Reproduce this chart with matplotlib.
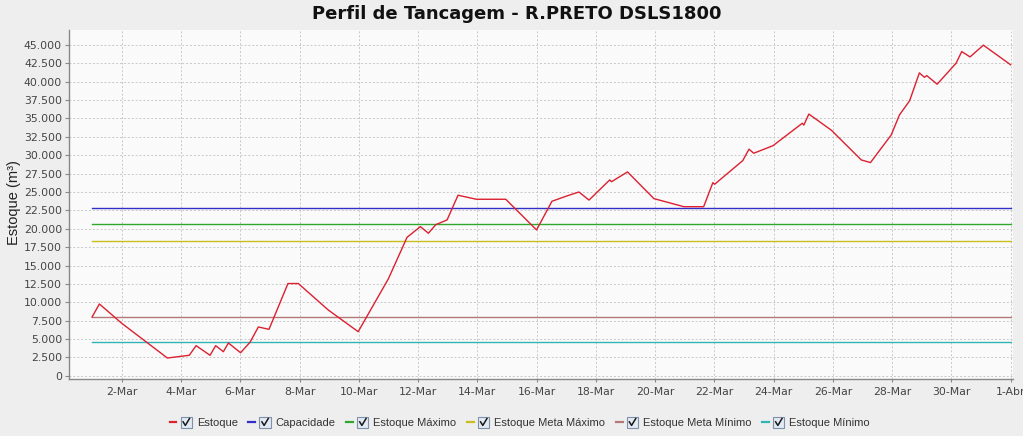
import matplotlib
matplotlib.use("Agg")
import matplotlib.pyplot as plt
from matplotlib.lines import Line2D
from matplotlib.patches import Rectangle
from matplotlib.legend_handler import HandlerBase
from matplotlib.ticker import FuncFormatter, MultipleLocator

# ---- data (x = days since 1-Mar 00:00) ----
estoque_days = [0, 0.245, 1.0, 2.54, 3.28, 3.51, 3.98, 4.17, 4.43, 4.6, 5.01, 5.33, 5.61,
                5.97, 6.61, 6.96, 7.97, 8.98, 10.0, 10.63, 11.08, 11.35, 11.6, 11.98,
                12.35, 12.97, 13.96, 15.0, 15.52, 16.05, 16.43, 16.77, 17.47, 17.53,
                18.07, 18.96, 19.97, 20.64, 20.95, 21.01, 21.96, 22.17, 22.33, 22.98,
                23.97, 24.02, 24.19, 24.95, 25.96, 26.27, 26.97, 27.25, 27.59, 27.92,
                28.09, 28.17, 28.52, 29.16, 29.35, 29.63, 30.08, 31.0]
estoque_vals = [8000, 9770, 7140, 2420, 2790, 4100, 2790, 4100, 3280, 4460, 3140, 4560, 6640,
                6320, 12550, 12550, 8950, 6000, 13200, 18840, 20290, 19390, 20560, 21200,
                24560, 24010, 24010, 19840, 23740, 24500, 25000, 23900, 26640, 26400,
                27730, 24100, 23000, 23000, 26270, 26050, 29270, 30820, 30270, 31300,
                34350, 34100, 35600, 33400, 29360, 29000, 32760, 35500, 37400, 41200,
                40600, 40830, 39660, 42520, 44100, 43370, 44970, 42300]

line_range = [0, 31]
capacidade = 22800
estoque_maximo = 20600
estoque_meta_maximo = 18350
estoque_meta_minimo = 8000
estoque_minimo = 4600

series_names = ["Estoque", "Capacidade", "Estoque Máximo", "Estoque Meta Máximo",
                "Estoque Meta Mínimo", "Estoque Mínimo"]
series_colors = ["#DC2030", "#3030C8", "#30A830", "#C8BE1E", "#B47878", "#30B4B4"]

tick_days = [1, 3, 5, 7, 9, 11, 13, 15, 17, 19, 21, 23, 25, 27, 29, 31]
tick_labels = ["2-Mar", "4-Mar", "6-Mar", "8-Mar", "10-Mar", "12-Mar", "14-Mar", "16-Mar",
               "18-Mar", "20-Mar", "22-Mar", "24-Mar", "26-Mar", "28-Mar", "30-Mar", "1-Abr"]

title = "Perfil de Tancagem - R.PRETO DSLS1800"
ylabel = "Estoque (m³)"

W, H = 1023, 436
fig = plt.figure(figsize=(W / 100, H / 100), dpi=100, facecolor="#EEEEEE")
ax = fig.add_axes([69 / W, 1 - 379 / H, (1013 - 69) / W, (379 - 29.5) / H])
ax.set_facecolor("#FAFAFA")

ax.plot(estoque_days, estoque_vals, color=series_colors[0], lw=1.0, zorder=5)
levels = [capacidade, estoque_maximo, estoque_meta_maximo, estoque_meta_minimo, estoque_minimo]
for lvl, c in zip(levels, series_colors[1:]):
    ax.plot(line_range, [lvl, lvl], color=c, lw=1.0, zorder=4)

ax.set_xlim(-0.78, 31.08)
ax.set_ylim(-435, 47100)
ax.yaxis.set_major_locator(MultipleLocator(2500))
ax.yaxis.set_major_formatter(FuncFormatter(lambda v, p: f"{int(round(v)):,}".replace(",", ".")))
ax.set_xticks(tick_days)
ax.set_xticklabels(tick_labels)

ax.grid(True, color="#C8C8C8", linestyle=(0, (2, 2)), lw=0.7)
ax.set_axisbelow(True)
for s in ["top", "right"]:
    ax.spines[s].set_visible(False)
for s in ["left", "bottom"]:
    ax.spines[s].set_color("#888888")
    ax.spines[s].set_linewidth(1.0)
ax.tick_params(axis="y", direction="out", length=3, color="#888888", labelsize=7.8,
               labelcolor="#444444", pad=2)
ax.tick_params(axis="x", direction="out", length=2, color="#888888", labelsize=7.8,
               labelcolor="#444444", pad=4)

fig.text(0.505, 1 - 14 / H, title, ha="center", va="center", fontsize=13,
         fontweight="bold", family="DejaVu Sans", color="#111111")
fig.text(14 / W, 1 - 203 / H, ylabel, rotation=90, ha="center", va="center",
         fontsize=10.5, family="Liberation Sans", color="#222222")


class CheckHandler(HandlerBase):
    def create_artists(self, legend, orig_handle, xdescent, ydescent, width, height,
                       fontsize, trans):
        c = orig_handle.get_color()
        x0 = -xdescent
        cy = height / 2 - ydescent
        ln = Line2D([x0, x0 + 5], [cy, cy], color=c, lw=1.6, transform=trans)
        bx = x0 + 8
        s = 8
        box = Rectangle((bx, cy - s / 2), s, s, facecolor="#E2EAF4", edgecolor="#8090A8",
                        lw=0.8, transform=trans)
        chk = Line2D([bx + 1.8, bx + 3.4, bx + 6.4], [cy + 0.2, cy - 2.4, cy + 2.6],
                     color="#1A1A1A", lw=1.1, transform=trans)
        return [ln, box, chk]


handles = [Line2D([], [], color=c) for c in series_colors]
fig.legend(handles, series_names, loc="center", bbox_to_anchor=(0.508, 1 - 423 / H),
           ncol=6, frameon=False, handler_map={Line2D: CheckHandler()},
           prop={"family": "Liberation Sans", "size": 8}, handlelength=2.2,
           handletextpad=0.25, columnspacing=0.95, labelcolor="#333333")

fig.savefig("out.png", dpi=100, facecolor=fig.get_facecolor())
